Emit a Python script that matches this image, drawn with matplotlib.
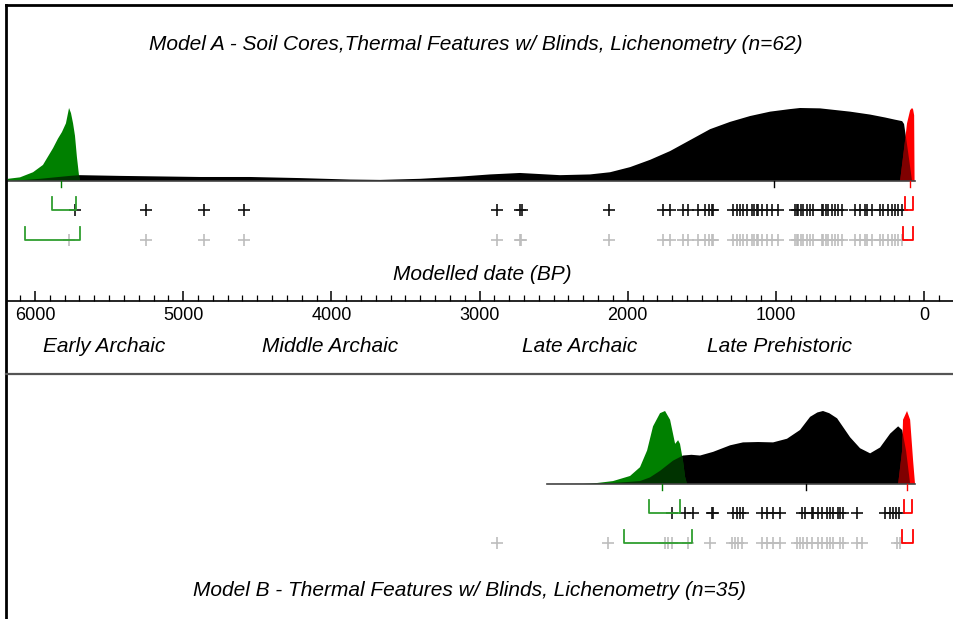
import matplotlib
matplotlib.use("Agg")
import matplotlib.pyplot as plt
from matplotlib.lines import Line2D
from matplotlib.ticker import MultipleLocator
import matplotlib.transforms as mtransforms

W, H, DPI = 954, 619, 100
XLIM = (6182, -202)
plt.rcParams["font.family"] = ["Liberation Sans", "DejaVu Sans"]

# ---- data (years BP, relative probability) ----
# Model A
a_black_bp = [6169, 5966, 5764, 5696, 5426, 4886, 4549, 4211, 3874, 3671, 3401, 3132, 2929,
              2727, 2457, 2254, 2119, 1984, 1849, 1714, 1579, 1444, 1309, 1174, 1039, 905,
              837, 702, 634, 499, 364, 263, 196, 148, 135, 108, 81]
a_black_p = [0, 0.03, 0.07, 0.08, 0.07, 0.055, 0.055, 0.04, 0.02, 0.015, 0.03, 0.06, 0.09,
             0.11, 0.08, 0.09, 0.12, 0.19, 0.29, 0.41, 0.56, 0.71, 0.81, 0.89, 0.95, 0.985,
             1.0, 0.995, 0.98, 0.95, 0.91, 0.87, 0.84, 0.82, 0.78, 0.40, 0]
a_green_bp = [6182, 6101, 6013, 5946, 5878, 5845, 5818, 5791, 5770, 5757, 5743, 5730, 5717, 5703, 5696]
a_green_p = [0.03, 0.05, 0.12, 0.22, 0.45, 0.58, 0.67, 0.79, 1.0, 0.93, 0.79, 0.62, 0.33, 0.08, 0]
a_red_bp = [162, 128, 115, 94, 81, 74, 67, 64]
a_red_p = [0, 0.56, 0.79, 0.97, 1.0, 0.98, 0.9, 0]
a_medians = [5825, 1010, 95]

a_dates = [5730, 5251, 4859, 4589, 2882, 2727, 2713, 2126, 1761, 1714, 1627, 1593, 1525,
           1478, 1451, 1431, 1424, 1289, 1262, 1242, 1222, 1195, 1161, 1147, 1127, 1120,
           1093, 1060, 1026, 985, 871, 857, 850, 830, 817, 790, 769, 749, 688, 682, 661,
           648, 621, 601, 580, 553, 466, 432, 398, 385, 351, 297, 277, 243, 216, 196, 175, 148]
a_unmodelled = [5770, 5251, 4859, 4589, 2882, 2727, 2720, 2126, 1761, 1714, 1627, 1593, 1525,
                1478, 1451, 1431, 1424, 1289, 1262, 1242, 1222, 1195, 1161, 1147, 1127, 1120,
                1093, 1060, 1026, 985, 871, 857, 850, 830, 817, 790, 769, 749, 688, 682, 661,
                648, 621, 601, 580, 553, 466, 432, 398, 385, 351, 297, 277, 243, 216, 196, 175, 148]
a_green_ranges = [(5885, 5720), (6067, 5696)]
a_red_ranges = [(128, 74), (142, 74)]

# Model B
b_black_bp = [2544, 2254, 2052, 1917, 1850, 1782, 1694, 1627, 1570, 1512, 1424, 1309, 1222,
              1120, 1019, 925, 837, 769, 720, 682, 640, 587, 499, 432, 364, 297, 229, 175,
              148, 121, 94]
b_black_p = [0, 0.003, 0.02, 0.04, 0.09, 0.18, 0.32, 0.39, 0.40, 0.39, 0.44, 0.53, 0.57,
             0.575, 0.57, 0.62, 0.74, 0.92, 0.98, 1.0, 0.97, 0.9, 0.64, 0.49, 0.42, 0.5,
             0.69, 0.79, 0.74, 0.45, 0]
b_green_bp = [2300, 2234, 2099, 1984, 1917, 1869, 1829, 1782, 1748, 1714, 1680, 1660, 1647, 1627, 1613, 1600]
b_green_p = [0, 0.007, 0.04, 0.11, 0.23, 0.46, 0.79, 0.97, 1.0, 0.88, 0.55, 0.6, 0.55, 0.32, 0.1, 0]
b_red_bp = [175, 148, 142, 115, 94, 74, 61]
b_red_p = [0, 0.46, 0.88, 1.0, 0.88, 0.32, 0]
b_medians = [1770, 800, 117]

b_dates = [1703, 1613, 1559, 1433, 1422, 1287, 1264, 1242, 1219, 1095, 1062, 1017, 972, 825,
           803, 758, 747, 713, 690, 657, 634, 612, 582, 567, 549, 454, 263, 229, 207, 189, 167]
b_unmodelled = [2882, 2133, 1748, 1728, 1701, 1593, 1444, 1296, 1276, 1255, 1228, 1093, 1060,
                1019, 972, 857, 837, 817, 790, 756, 715, 688, 655, 634, 614, 567, 547, 452,
                418, 182, 162]
b_green_ranges = [(1856, 1647), (2025, 1566)]
b_red_ranges = [(135, 81), (148, 74)]

periods = ["Early Archaic", "Middle Archaic", "Late Archaic", "Late Prehistoric"]
period_pos = [5534, 4009, 2322, 972]

GREEN = "#008000"
RED = "#ff0000"
BR_GREEN = "#2f9e2f"
GREY = "#bdbdbd"
TXT = 15

fig = plt.figure(figsize=(W / DPI, H / DPI), dpi=DPI)


def px_axes(top, bottom):
    ax = fig.add_axes([8 / W, 1 - bottom / H, 946 / W, (bottom - top) / H])
    ax.set_xlim(*XLIM)
    ax.axis("off")
    return ax


def poly(ax, bp, p, **kw):
    xs = [bp[0]] + list(bp) + [bp[-1]]
    ys = [0] + list(p) + [0]
    return ax.fill(xs, ys, lw=0, **kw)[0]


def density_panel(top, bottom, bk, green, red, medians, base_from):
    ax = px_axes(top, bottom)
    ax.set_ylim(0, 1)
    ax.plot([base_from, red[0][-1]], [0, 0], color="#444444", lw=1.2, clip_on=False)
    poly(ax, *bk, color="black")
    g = poly(ax, *green, color=GREEN)
    r = poly(ax, *red, color=RED)
    over_g = poly(ax, *bk, color="black", alpha=0.6)
    over_g.set_clip_path(g)
    over_r = poly(ax, *bk, color="black", alpha=0.5)
    over_r.set_clip_path(r)
    for m, c in zip(medians, [GREEN, "black", RED]):
        ax.plot([m, m], [0, -0.08], color=c, lw=1, clip_on=False)
    return ax


def rows_panel(top, dates, unmod, granges, rranges):
    ax = px_axes(top, top + 60)
    ax.set_ylim(1.5, -0.5)
    ax.plot(dates, [0] * len(dates), ls="none", marker="+", ms=8.5, mew=1.2, color="#111111")
    ax.plot(unmod, [1] * len(unmod), ls="none", marker="+", ms=8.5, mew=1.2, color=GREY)
    for ranges, c in [(granges, BR_GREEN), (rranges, RED)]:
        for row, (x0, x1) in enumerate(ranges):
            ax.plot([x0, x0, x1, x1], [row - 0.45, row, row, row - 0.45], color=c, lw=1.3)
    return ax


# Model A
density_panel(108, 181, (a_black_bp, a_black_p), (a_green_bp, a_green_p),
              (a_red_bp, a_red_p), a_medians, XLIM[0])
rows_panel(195, a_dates, a_unmodelled, a_green_ranges, a_red_ranges)

# Model B
density_panel(411, 484, (b_black_bp, b_black_p), (b_green_bp, b_green_p),
              (b_red_bp, b_red_p), b_medians, b_black_bp[0])
rows_panel(498, b_dates, b_unmodelled, b_green_ranges, b_red_ranges)

# time axis
axt = fig.add_axes([8 / W, 1 - 301 / H, 946 / W, 20 / H])
axt.set_xlim(*XLIM)
axt.set_yticks([])
for s in ["top", "left", "right"]:
    axt.spines[s].set_visible(False)
axt.spines["bottom"].set_linewidth(1.2)
axt.patch.set_visible(False)
axt.xaxis.set_major_locator(MultipleLocator(1000))
axt.xaxis.set_minor_locator(MultipleLocator(100))
axt.tick_params(axis="x", which="major", direction="in", length=7, width=1.1,
                labelsize=13, pad=4)
axt.tick_params(axis="x", which="minor", direction="in", length=4, width=0.9)
trans = mtransforms.blended_transform_factory(axt.transData, fig.transFigure)
for name, pos in zip(periods, period_pos):
    axt.text(pos, 1 - 347 / H, name, transform=trans, ha="center", va="center",
             fontsize=TXT, style="italic")

fig.text(482 / W, 1 - 275 / H, "Modelled date (BP)", ha="center", va="center",
         fontsize=TXT, style="italic")
fig.text(476 / W, 1 - 45 / H,
         "Model A - Soil Cores,Thermal Features w/ Blinds, Lichenometry (n=62)",
         ha="center", va="center", fontsize=TXT, style="italic")
fig.text(470 / W, 1 - 590 / H,
         "Model B - Thermal Features w/ Blinds, Lichenometry (n=35)",
         ha="center", va="center", fontsize=TXT, style="italic")

# frame lines
fig.add_artist(Line2D([6 / W, 6 / W], [0, 1 - 5 / H], color="black", lw=2))
fig.add_artist(Line2D([6 / W, 1], [1 - 5 / H, 1 - 5 / H], color="black", lw=2))
fig.add_artist(Line2D([6 / W, 1], [1 - 374 / H, 1 - 374 / H], color="#555555", lw=1.6))

fig.savefig("out.png", dpi=DPI)
